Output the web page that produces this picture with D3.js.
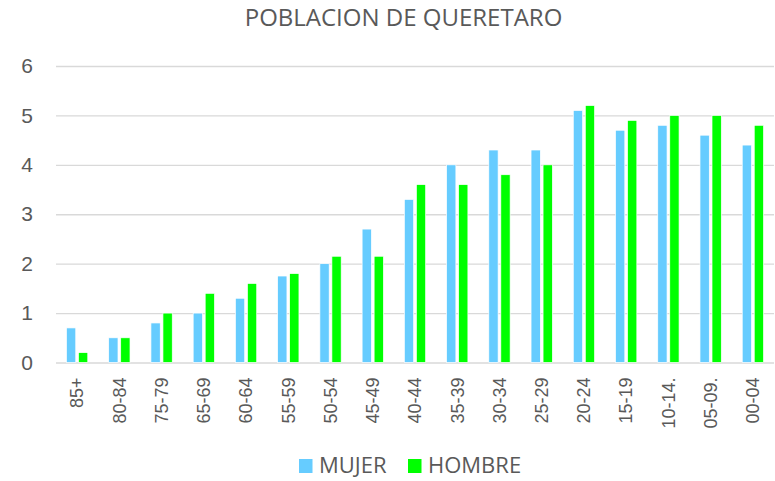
<!DOCTYPE html>
<html>
<head>
<meta charset="utf-8">
<script src="https://cdn.jsdelivr.net/npm/d3@7"></script>
<style>
  html, body { margin: 0; padding: 0; background: #ffffff; }
  svg { display: block; font-family: "Open Sans", sans-serif; }
</style>
</head>
<body>
<svg id="chart" width="775" height="481"></svg>
<script>
// Age groups (oldest first) and population share per sex
const ageGroups = ["85+", "80-84", "75-79", "65-69", "60-64", "55-59", "50-54", "45-49",
  "40-44", "35-39", "30-34", "25-29", "20-24", "15-19", "10-14.", "05-09.", "00-04"];
const mujer  = [0.7, 0.5, 0.8, 1.0, 1.3, 1.75, 2.0, 2.7, 3.3, 4.0, 4.3, 4.3, 5.1, 4.7, 4.8, 4.6, 4.4];
const hombre = [0.2, 0.5, 1.0, 1.4, 1.6, 1.8, 2.15, 2.15, 3.6, 3.6, 3.8, 4.0, 5.2, 4.9, 5.0, 5.0, 4.8];
const seriesNames = ["MUJER", "HOMBRE"];
const seriesColors = ["#66ccff", "#00ff00"];
const yTicks = [0, 1, 2, 3, 4, 5, 6];
const title = "POBLACION DE QUERETARO";

const svg = d3.select("#chart");
const textColor = "#595959";
const plot = { left: 56, right: 774, top: 66, bottom: 362.5 };

const x0 = d3.scaleBand().domain(ageGroups).range([plot.left, plot.right])
  .paddingInner(0.495).paddingOuter(0.2475);
const x1 = d3.scaleBand().domain(seriesNames).range([0, x0.bandwidth()]).paddingInner(0.225);
const y = d3.scaleLinear().domain([0, 6]).range([plot.bottom, plot.top]);

// Title
svg.append("text")
  .attr("x", 403.5).attr("y", 26)
  .attr("text-anchor", "middle")
  .attr("fill", textColor)
  .style("font-size", "24px")
  .text(title);

// Horizontal gridlines with value labels
const yAxis = d3.axisLeft(y).tickValues(yTicks).tickFormat(d3.format("d"))
  .tickSize(-(plot.right - plot.left)).tickPadding(23);
const gy = svg.append("g").attr("transform", `translate(${plot.left},0)`).call(yAxis);
gy.select(".domain").remove();
gy.selectAll(".tick line").attr("stroke", "#d9d9d9").attr("stroke-width", 1.3);
gy.selectAll(".tick text").attr("fill", textColor).style("font-size", "21px")
  .style("font-family", "inherit");

// Bars
const rows = ageGroups.map((g, i) => ({ group: g, values: [mujer[i], hombre[i]] }));
const groups = svg.append("g").selectAll("g").data(rows).join("g")
  .attr("transform", d => `translate(${x0(d.group)},0)`);
groups.selectAll("rect")
  .data(d => d.values.map((v, j) => ({ name: seriesNames[j], value: v, color: seriesColors[j] })))
  .join("rect")
  .attr("x", d => x1(d.name))
  .attr("width", x1.bandwidth())
  .attr("y", d => y(d.value))
  .attr("height", d => y(0) - y(d.value))
  .attr("fill", d => d.color)
  .attr("stroke", "#ffffff")
  .attr("stroke-width", 0.7);

// Rotated category labels
const xAxis = d3.axisBottom(x0).tickSize(0).tickPadding(0);
const gx = svg.append("g").attr("transform", `translate(0,${plot.bottom})`).call(xAxis);
gx.select(".domain").remove();
gx.selectAll(".tick text")
  .attr("fill", textColor)
  .style("font-size", "18px")
  .style("font-family", "inherit")
  .attr("text-anchor", "end")
  .attr("transform", "translate(0,15) rotate(-90)")
  .attr("x", 0).attr("y", 0).attr("dy", "0.35em");

// Legend
const legend = svg.append("g").attr("transform", "translate(299,459)");
const legendX = [0, 109];
seriesNames.forEach((name, i) => {
  const item = legend.append("g").attr("transform", `translate(${legendX[i]},0)`);
  item.append("rect").attr("width", 13.5).attr("height", 14).attr("fill", seriesColors[i]);
  item.append("text").attr("x", 20).attr("y", 14)
    .attr("fill", textColor).style("font-size", "22px").text(name);
});
</script>
</body>
</html>
